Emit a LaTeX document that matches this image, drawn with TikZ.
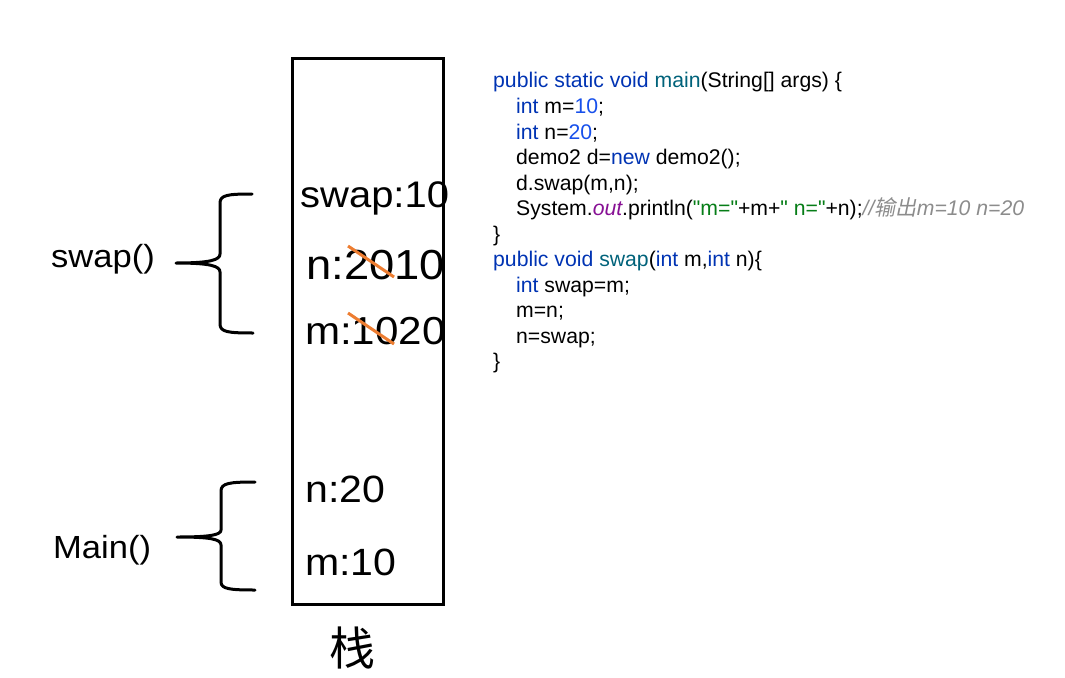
\documentclass[tikz,border=0pt]{standalone}
\usepackage{fontspec}
\setmainfont{Liberation Sans}
\newfontfamily\codefont[Ligatures=TeXOff]{Liberation Sans}
\newfontfamily\boxfont[FakeStretch=1.08]{Liberation Sans}
\newfontfamily\cjk{Noto Sans CJK SC}
\newfontfamily\cjkit[FakeSlant=0.2]{Noto Sans CJK SC}
\definecolor{kwc}{HTML}{0033B3}
\definecolor{numc}{HTML}{1750EB}
\definecolor{fnc}{HTML}{00627A}
\definecolor{strc}{HTML}{067D17}
\definecolor{outc}{HTML}{871094}
\definecolor{cmc}{HTML}{8C8C8C}
\definecolor{strikec}{HTML}{ED7D31}
\newcommand\cKw[1]{\textcolor{kwc}{#1}}
\newcommand\cNum[1]{\textcolor{numc}{#1}}
\newcommand\cFn[1]{\textcolor{fnc}{#1}}
\newcommand\cStr[1]{\textcolor{strc}{#1}}
\newcommand\cOut[1]{\textcolor{outc}{\itshape #1}}
\newcommand\cCm[1]{\textcolor{cmc}{\itshape #1}}
\begin{document}
\begin{tikzpicture}[x=1pt,y=-1pt,
  codeline/.style={anchor=base west,inner sep=0pt,font=\codefont\fontsize{21.2}{25}\selectfont},
  cell/.style={anchor=base west,inner sep=0pt,font=\boxfont\fontsize{#1}{40}\selectfont},
  cell/.default=37.5,
  lab/.style={anchor=base west,inner sep=0pt,font=\boxfont\fontsize{32}{36}\selectfont},
  bracepath/.style={line width=3pt,line cap=round,line join=round},
  strike/.style={line width=3pt,draw=strikec}]
\useasboundingbox (0,0) rectangle (1065,677);
% stack box
\node[draw,line width=3.3pt,minimum width=151pt,minimum height=546pt,anchor=north west,inner sep=0pt] (stack) at (291,57) {};
\node[inner sep=0pt,font=\cjk\fontsize{46}{48}\selectfont] (zhan) at (352,648) {栈};
% cells
\node[cell=37] (swapv) at (300,207) {swap:10};
\node[cell=42] (nswap) at (306,279) {n:2010};
\node[cell=39] (mswap) at (305,344) {m:1020};
\node[cell=38] (nmain) at (305,502) {n:20};
\node[cell=38] (mmain) at (305,575) {m:10};
% strikes
\coordinate (s1a) at (348,246); \coordinate (s1b) at (394,277);
\coordinate (s2a) at (348,313); \coordinate (s2b) at (394,344);
\draw[strike] (s1a) -- (s1b);
\draw[strike] (s2a) -- (s2b);
% labels
\node[lab] (lswap) at (51,267) {swap()};
\node[lab] (lmain) at (53,558) {Main()};
% braces
\draw[bracepath] (252,194) .. controls (228,194) and (220,195) .. (220,203) -- (220,254)
  .. controls (220,260) and (210,263) .. (176,263)
  .. controls (210,263) and (220,266) .. (220,272) -- (220,324)
  .. controls (220,332) and (228,333) .. (253,333);
\draw[bracepath] (255,482) .. controls (230,482) and (221,483) .. (221,491) -- (221,530)
  .. controls (221,535) and (210,537) .. (177,537)
  .. controls (210,537) and (221,539) .. (221,545) -- (221,582)
  .. controls (221,589) and (230,590) .. (255,590);
% code
\node[codeline] (l1) at (493,88) {\cKw{public static void} \cFn{main}(String[] args) \{};
\node[codeline] (l2) at (516,113.5) {\cKw{int} m=\cNum{10};};
\node[codeline] (l3) at (516,139) {\cKw{int} n=\cNum{20};};
\node[codeline] (l4) at (516,164.5) {demo2 d=\cKw{new} demo2();};
\node[codeline] (l5) at (516,190) {d.swap(m,n);};
\node[codeline] (l6) at (516,215.5) {System.\cOut{out}.println(\cStr{"m="}+m+\cStr{" n="}+n);\cCm{//{\cjkit 输出}m=10 n=20}};
\node[codeline] (l7) at (493,241) {\}};
\node[codeline] (l8) at (493,266.5) {\cKw{public void} \cFn{swap}(\cKw{int} m,\cKw{int} n)\{};
\node[codeline] (l9) at (516,292) {\cKw{int} swap=m;};
\node[codeline] (l10) at (516,317.5) {m=n;};
\node[codeline] (l11) at (516,343) {n=swap;};
\node[codeline] (l12) at (493,368.5) {\}};
\end{tikzpicture}
\end{document}
